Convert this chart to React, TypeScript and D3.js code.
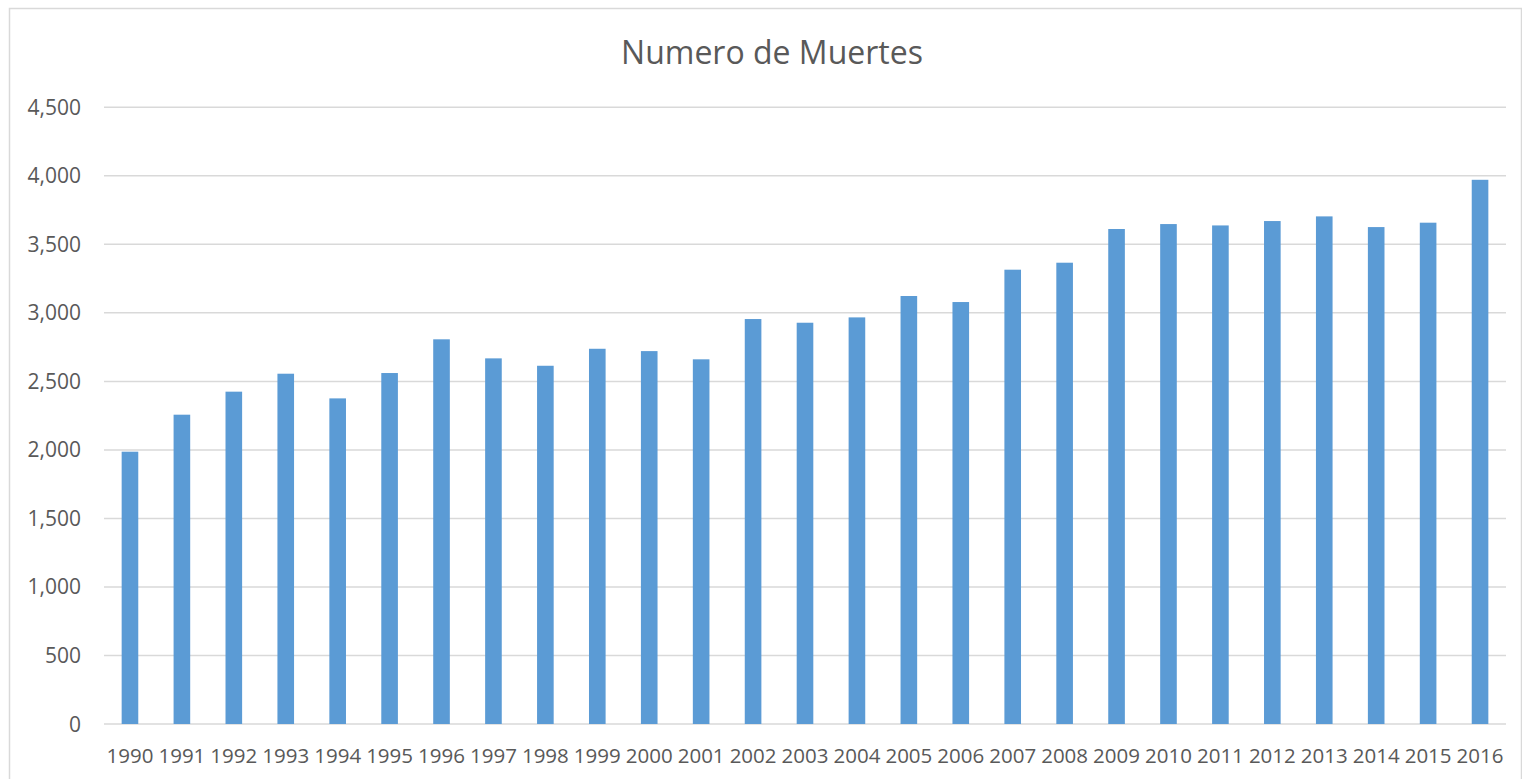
import React from "react";
import * as d3 from "d3";

const title = "Numero de Muertes";
const years = [
  "1990", "1991", "1992", "1993", "1994", "1995", "1996", "1997", "1998", "1999",
  "2000", "2001", "2002", "2003", "2004", "2005", "2006", "2007", "2008", "2009",
  "2010", "2011", "2012", "2013", "2014", "2015", "2016",
];
const deaths = [
  1987, 2257, 2425, 2556, 2376, 2561, 2807, 2668, 2614, 2738,
  2721, 2661, 2955, 2928, 2967, 3123, 3079, 3315, 3366, 3612,
  3648, 3638, 3670, 3704, 3626, 3658, 3971,
];
const yTicks = [0, 500, 1000, 1500, 2000, 2500, 3000, 3500, 4000, 4500];

const W = 1522;
const H = 779;
const FONT = "'Open Sans', 'Noto Sans', sans-serif";
const TEXT = "#595959";
const GRID = "#D9D9D9";
const BAR = "#5B9BD5";

export default function App() {
  const x = d3
    .scaleBand<string>()
    .domain(years)
    .range([104, 1506])
    .paddingInner(0.68)
    .paddingOuter(0.34);
  const y = d3.scaleLinear().domain([0, 4500]).range([724, 107.3]);
  const fmt = d3.format(",");

  return (
    <svg
      width={W}
      height={H}
      style={{ position: "absolute", left: 0, top: 0, background: "#fff" }}
    >
      <rect x={0} y={0} width={W} height={H} fill="#fff" />
      <rect
        x={9.5}
        y={8.5}
        width={1512}
        height={820}
        fill="none"
        stroke={GRID}
        strokeWidth={1.5}
      />
      <text
        x={772}
        y={64}
        textAnchor="middle"
        fontFamily={FONT}
        fontSize={32}
        fill={TEXT}
      >
        {title}
      </text>
      {yTicks.map((t) => (
        <g key={t}>
          <line
            x1={104}
            x2={1506}
            y1={y(t)}
            y2={y(t)}
            stroke={GRID}
            strokeWidth={1.5}
          />
          <text
            x={81}
            y={y(t) + 7.5}
            textAnchor="end"
            fontFamily={FONT}
            fontSize={21}
            fill={TEXT}
          >
            {fmt(t)}
          </text>
        </g>
      ))}
      {years.map((yr, i) => (
        <rect
          key={yr}
          x={x(yr)}
          y={y(deaths[i])}
          width={x.bandwidth()}
          height={y(0) - y(deaths[i])}
          fill={BAR}
        />
      ))}
      {years.map((yr) => (
        <text
          key={"l" + yr}
          x={(x(yr) as number) + x.bandwidth() / 2}
          y={762.5}
          textAnchor="middle"
          fontFamily={FONT}
          fontSize={20.5}
          fill={TEXT}
        >
          {yr}
        </text>
      ))}
    </svg>
  );
}
